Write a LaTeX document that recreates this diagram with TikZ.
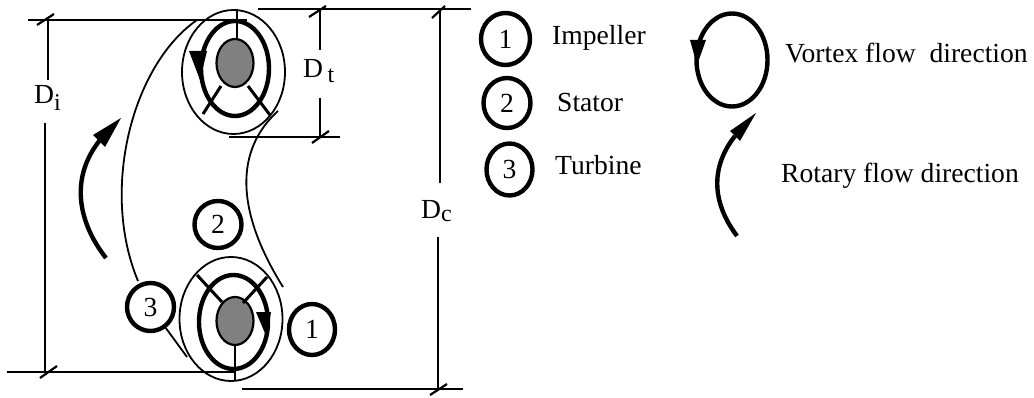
\documentclass[tikz,border=0pt]{standalone}
\usepackage{fontspec}
\setmainfont{Liberation Serif}
\usetikzlibrary{shapes.geometric}
\newcommand{\lbl}{\fontsize{27.6}{30}\selectfont}
\newcommand{\subs}[2]{\raisebox{-#1pt}{\fontsize{24}{28}\selectfont #2}}
\definecolor{gray50}{RGB}{128,128,128}
\tikzset{
  x=1pt,y=-1pt,
  thin line/.style={line width=1.8pt,black},
  dim line/.style={line width=2.2pt,black},
  spoke/.style={line width=3pt,black},
  thick line/.style={line width=4.4pt,black},
  outer oval/.style={ellipse,draw,line width=1.8pt,inner sep=0pt,minimum width=103pt,minimum height=124pt},
  flow oval/.style={ellipse,draw,line width=4.4pt,inner sep=0pt},
  hub/.style={ellipse,draw,line width=2.2pt,fill=gray50,inner sep=0pt,minimum width=37pt,minimum height=48pt},
  num/.style={ellipse,draw,line width=4.4pt,fill=white,inner sep=0pt,font=\lbl},
  txt/.style={inner sep=0pt,font=\lbl,anchor=base west},
  head/.style={fill=black,draw=none}
}
\begin{document}
\begin{tikzpicture}
\useasboundingbox (0,0) rectangle (1034,398);
% casing curves
\coordinate (cl1) at (197,20); \coordinate (cl2) at (138,281);
\coordinate (cr1) at (278,111); \coordinate (cr2) at (283,287);
\draw[thin line] (cl1) .. controls (132,65) and (100,190) .. (cl2);
\draw[thin line] (cr1) .. controls (235,150) and (235,210) .. (cr2);
% top torus
\node[outer oval] (topouter) at (233.5,72) {};
\node[flow oval,minimum width=68pt,minimum height=95pt] (topflow) at (235,68.5) {};
\node[hub] (tophub) at (235,63) {};
\coordinate (ts1) at (221,86); \coordinate (ts1e) at (203,114);
\coordinate (ts2) at (248,86); \coordinate (ts2e) at (270,115);
\coordinate (tv) at (237,9); \coordinate (tvh) at (237,38);
\draw[dim line] (tv) -- (tvh);
\draw[spoke] (ts1) -- (ts1e);
\draw[spoke] (ts2) -- (ts2e);
\fill[head] (189,51) -- (207,51) -- (200,80) -- cycle;
% bottom torus
\node[outer oval] (botouter) at (231,319) {};
\node[flow oval,minimum width=69pt,minimum height=94pt] (botflow) at (233.5,322) {};
\node[hub] (bothub) at (235,321) {};
\coordinate (bs1) at (197,275); \coordinate (bs1e) at (222,302);
\coordinate (bs2) at (267,277); \coordinate (bs2e) at (243,303);
\coordinate (bv) at (235,381);
\draw[dim line] (bothub.south) -- (bv);
\draw[spoke] (bs1) -- (bs1e);
\draw[spoke] (bs2) -- (bs2e);
\fill[head] (256,312) -- (271,312) -- (267,338) -- cycle;
% numbered circles
\node[num,minimum width=47pt,minimum height=47pt] (n2) at (218,224.5) {2};
\node[num,minimum width=47pt,minimum height=48pt] (n3) at (150.5,307) {3};
\node[num,minimum width=46pt,minimum height=51pt] (n1) at (312,329.5) {1};
\coordinate (n3e) at (187,357);
\draw[thin line] (n3) -- (n3e);
% Di dimension
\node[txt] (di) at (34,104) {D\subs{7}{i}};
\coordinate (dit1) at (28,20); \coordinate (dit2) at (247,20);
\coordinate (dib1) at (7,372); \coordinate (dib2) at (235,372);
\coordinate (dia) at (48,20); \coordinate (dib) at (48,80);
\coordinate (dic) at (45,123); \coordinate (did) at (45,372);
\draw[dim line] (dit1) -- (dit2);
\draw[dim line] (dib1) -- (dib2);
\draw[dim line] (dia) -- (dib);
\draw[dim line] (dic) -- (did);
\draw[dim line] (37,25) -- (54,14);
\draw[dim line] (40,378) -- (57,366);
% Dt dimension
\node[txt] (dt) at (303,78) {D\,\subs{5}{t}};
\coordinate (dtt1) at (258,9); \coordinate (dtt2) at (471,9);
\coordinate (dtb1) at (229,137); \coordinate (dtb2) at (340,137);
\coordinate (dta) at (320,9); \coordinate (dtb) at (320,50);
\coordinate (dtc) at (320,98); \coordinate (dtd) at (320,137);
\draw[dim line] (dtt1) -- (dtt2);
\draw[dim line] (dtb1) -- (dtb2);
\draw[dim line] (dta) -- (dtb);
\draw[dim line] (dtc) -- (dtd);
\draw[dim line] (309,17) -- (326,6);
\draw[dim line] (312,143) -- (329,131);
% Dc dimension
\node[txt] (dc) at (421,219) {D\subs{3}{c}};
\coordinate (dcb1) at (242,389); \coordinate (dcb2) at (463,389);
\coordinate (dca) at (440,9); \coordinate (dcb) at (440,183);
\coordinate (dcc) at (438,237); \coordinate (dcd) at (438,389);
\draw[dim line] (dcb1) -- (dcb2);
\draw[dim line] (dca) -- (dcb);
\draw[dim line] (dcc) -- (dcd);
\draw[dim line] (432,18) -- (445,6);
\draw[dim line] (430,395) -- (447,384);
% left rotary arrow
\coordinate (ra1) at (106,258); \coordinate (ra2) at (100,140);
\draw[thick line] (ra1) .. controls (80,225) and (68,180) .. (ra2);
\fill[head] (121,118) -- (93,135) -- (105,147) -- cycle;
% legend
\node[num,minimum width=49pt,minimum height=52pt] (l1) at (505.5,39) {1};
\node[num,minimum width=47pt,minimum height=50pt] (l2) at (507,103) {2};
\node[num,minimum width=46pt,minimum height=52pt] (l3) at (509.5,169.5) {3};
\node[txt] (impeller) at (552,45) {Impeller};
\node[txt] (stator) at (557,112) {Stator};
\node[txt] (turbine) at (555,175) {Turbine};
\node[flow oval,minimum width=71pt,minimum height=93pt] (vortex) at (732,60) {};
\fill[head] (690,40) -- (706,40) -- (697,65) -- cycle;
\node[txt] (vtxt) at (785,63) {Vortex flow\ \ direction};
\coordinate (rb1) at (737,236); \coordinate (rb2) at (735,136);
\draw[thick line] (rb1) .. controls (710,200) and (712,165) .. (rb2);
\fill[head] (756,113) -- (730,131) -- (740,141) -- cycle;
\node[txt] (rtxt) at (781,183) {Rotary flow direction};
\end{tikzpicture}
\end{document}
